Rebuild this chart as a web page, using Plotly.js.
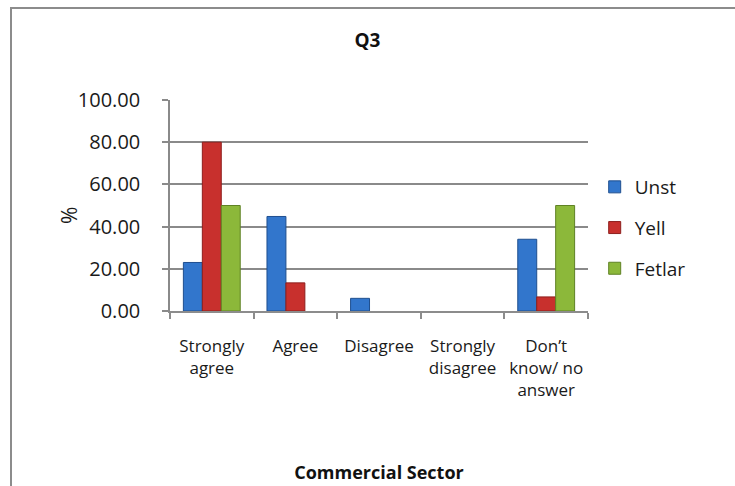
<!DOCTYPE html>
<html>
<head>
<meta charset="utf-8">
<script src="https://cdn.plot.ly/plotly-3.0.1.min.js"></script>
<style>
  html, body { margin: 0; padding: 0; background: #ffffff; width: 735px; height: 486px; overflow: hidden; }
  #frame { position: absolute; left: 10px; top: 7px; width: 760px; height: 520px; border: 2px solid #8c8c8c; box-sizing: border-box; }
  #chart { position: absolute; left: 0; top: 0; width: 735px; height: 486px; }
</style>
</head>
<body>
<div id="frame"></div>
<div id="chart"></div>
<script>
const categories = ["Strongly<br>agree", "Agree", "Disagree", "Strongly<br>disagree", "Don\u2019t<br>know/ no<br>answer"];
const seriesNames = ["Unst", "Yell", "Fetlar"];
const unst = [23.0, 44.8, 6.0, 0, 34.0];
const yell = [80.0, 13.33, 0, 0, 6.67];
const fetlar = [50.0, 0, 0, 0, 50.0];
const yTicks = [0, 20, 40, 60, 80, 100];
const colors = ["#3276cc", "#c8302d", "#8cb83a"];
const edge = ["#1f4f8f", "#8e1f1d", "#5f8224"];

const FONT = "Open Sans, Lato, sans-serif";
const values = [unst, yell, fetlar];
const traces = values.map((v, i) => ({
  type: "bar",
  name: seriesNames[i],
  x: categories,
  y: v,
  legendgroup: "g" + i,
  marker: { color: colors[i], line: { color: edge[i], width: v.map(d => d > 0 ? 1 : 0) } },
  hoverinfo: "x+y+name"
}));

const layout = {
  width: 735, height: 486,
  paper_bgcolor: "rgba(0,0,0,0)",
  plot_bgcolor: "rgba(0,0,0,0)",
  margin: { l: 170, r: 147, t: 100, b: 175, autoexpand: false },
  barmode: "group",
  bargap: 0.32,
  bargroupgap: 0,
  font: { family: FONT, color: "#1a1a1a" },
  title: { text: "<b>Q3</b>", font: { family: FONT, size: 19, color: "#111" }, xref: "container", x: 0.5, xanchor: "center", yref: "container", y: 1 - 40 / 486, yanchor: "middle" },
  xaxis: {
    type: "category",
    showgrid: false,
    showline: true, linecolor: "#8c8c8c", linewidth: 1.5,
    ticks: "outside", tickson: "boundaries", ticklen: 6, tickcolor: "#8c8c8c", tickwidth: 1.5,
    tickfont: { family: FONT, size: 17, color: "#1a1a1a" },
    ticklabelstandoff: 19,
    tickangle: 0,
    automargin: false,
    title: { text: "<b>Commercial Sector</b>", font: { family: FONT, size: 18, color: "#111" }, standoff: 66 }
  },
  yaxis: {
    range: [0, 100],
    tickvals: yTicks,
    tickformat: ".2f",
    showgrid: true, gridcolor: "#8a8a8a", gridwidth: 1.5,
    zeroline: false,
    showline: true, linecolor: "#8a8a8a", linewidth: 1.5,
    ticks: "outside", ticklen: 6, tickcolor: "#8a8a8a", tickwidth: 1.5,
    tickfont: { family: FONT, size: 20, color: "#1a1a1a" },
    ticklabelstandoff: 18,
    automargin: false
  },
  legend: {
    x: 1.016, xanchor: "left", y: (311 - 228) / 211, yanchor: "middle",
    font: { family: FONT, size: 19, color: "#1a1a1a" },
    traceorder: "grouped", tracegroupgap: 13,
    bgcolor: "rgba(0,0,0,0)", itemwidth: 30
  },
  annotations: [{
    text: "%", textangle: -90, showarrow: false,
    xref: "paper", yref: "paper",
    x: (69 - 170) / 418, y: (311 - 216) / 211,
    xanchor: "center", yanchor: "middle",
    font: { family: FONT, size: 21, color: "#1a1a1a" }
  }]
};

Plotly.newPlot("chart", traces, layout, { displayModeBar: false, responsive: false });
</script>
</body>
</html>
